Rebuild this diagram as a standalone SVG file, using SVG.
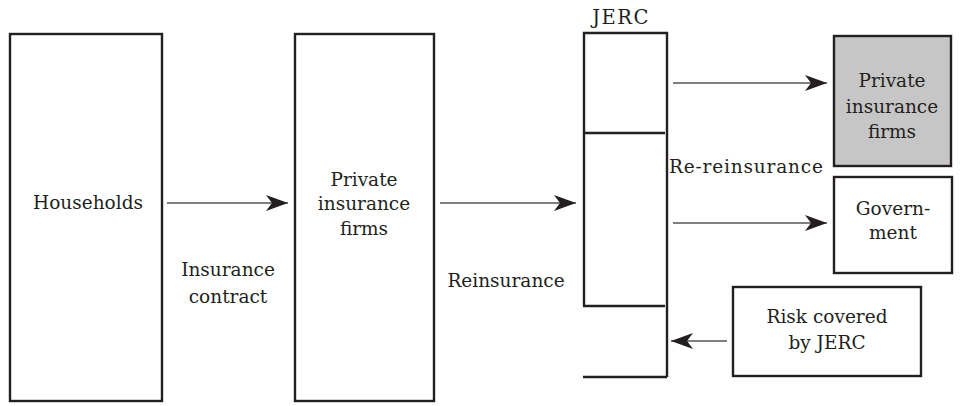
<svg xmlns="http://www.w3.org/2000/svg" width="961" height="406" viewBox="0 0 961 406">
<style>
.box{fill:#fff;stroke:#231f20;stroke-width:2.4}
.gray{fill:#c6c6c6}
.ln{stroke:#231f20;stroke-width:2.4;fill:none}
.arr{stroke:#555;stroke-width:1.3;fill:none;marker-end:url(#ah)}
text{font-family:"DejaVu Serif","Liberation Serif",serif;font-size:18.5px;fill:#231f20;text-anchor:middle}
</style>
<defs>
<marker id="ah" viewBox="0 0 22 16" refX="22" refY="8" markerWidth="22" markerHeight="17" markerUnits="userSpaceOnUse" orient="auto">
<path d="M0,0 L22,8 L0,16 L6,8 z" fill="#231f20"/>
</marker>
</defs>
<g id="households">
<rect class="box" x="10" y="34" width="152" height="367"/>
<text x="88" y="209">Households</text>
</g>
<g id="private-firms">
<rect class="box" x="295" y="34" width="139" height="367"/>
<text x="364" y="186">Private</text>
<text x="364" y="210">insurance</text>
<text x="364" y="235">firms</text>
</g>
<g id="jerc">
<path class="ln" d="M584,306 V33 H667 V377 M583,133 H665 M583,306 H665 M583,377 H667"/>
<text x="621" y="24" style="font-size:19.5px;letter-spacing:1.5px">JERC</text>
</g>
<g id="private-firms-2">
<rect class="box gray" x="834" y="36" width="117" height="130"/>
<text x="892" y="87">Private</text>
<text x="892" y="113">insurance</text>
<text x="892" y="138">firms</text>
</g>
<g id="government">
<rect class="box" x="834" y="177" width="118" height="96"/>
<text x="893" y="215">Govern-</text>
<text x="893" y="239">ment</text>
</g>
<g id="risk">
<rect class="box" x="733" y="287" width="188" height="89"/>
<text x="827" y="323">Risk covered</text>
<text x="827" y="349">by JERC</text>
</g>
<g id="connectors">
<line class="arr" x1="167" y1="203" x2="288" y2="203"/>
<line class="arr" x1="440" y1="203" x2="576" y2="203"/>
<line class="arr" x1="673" y1="83" x2="827" y2="83"/>
<line class="arr" x1="673" y1="223" x2="827" y2="223"/>
<line class="arr" x1="727" y1="341" x2="671" y2="341"/>
</g>
<g id="labels">
<text x="228" y="276">Insurance</text>
<text x="228" y="303">contract</text>
<text x="506" y="287">Reinsurance</text>
<text x="746" y="173" textLength="154" lengthAdjust="spacing">Re-reinsurance</text>
</g>
</svg>
